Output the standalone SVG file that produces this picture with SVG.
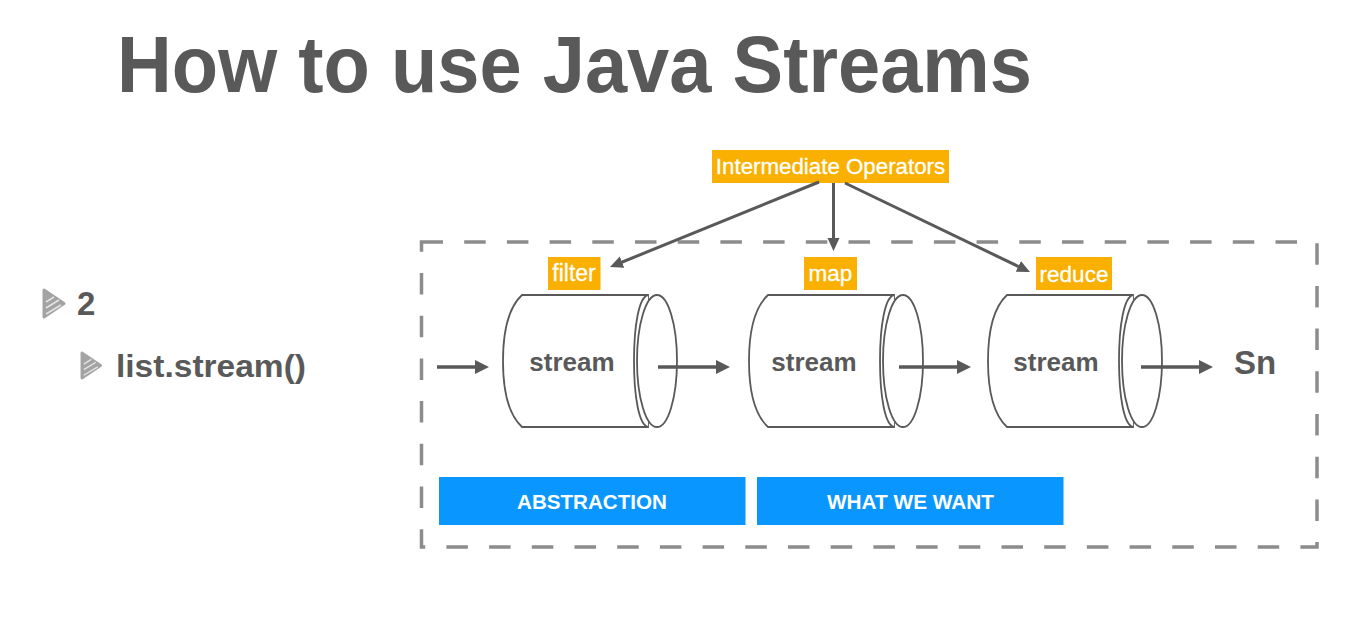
<svg xmlns="http://www.w3.org/2000/svg" width="1355" height="619" viewBox="0 0 1355 619">
<style>
text{font-family:"Liberation Sans",Arial,sans-serif}
.t{fill:#595959;font-weight:700;stroke:none}
.w{fill:#fff;stroke:#fff;stroke-width:.3;text-anchor:middle}
.o{fill:#f9b000}
.b{fill:#0a96ff}
.cy{fill:#fff;stroke:#595959;stroke-width:1.800}
.cn{stroke:#595959;fill:none}
</style>
<defs>
<marker id="ah" markerUnits="userSpaceOnUse" markerWidth="16" markerHeight="14" refX="10" refY="7" orient="auto"><path d="M0 0L14 7L0 14Z" fill="#595959"/></marker>
<marker id="as" markerUnits="userSpaceOnUse" markerWidth="14" markerHeight="14" refX="9" refY="7" orient="auto"><path d="M0 1L13 7L0 13Z" fill="#595959"/></marker>
<g id="bul"><path d="M1 1L21 14.500L1 28Z" fill="#a3a3a3" stroke="#a3a3a3" stroke-width="3" stroke-linejoin="round"/><path d="M3 13L11 8M3 19L16 11M3 25L18 16" stroke="#e4e4e4" stroke-width="1.500" fill="none"/></g>
<g id="cyl"><path class="cy" d="M145 0H19C6 12 0 36 0 66C0 96 6 120 19 132H145Z"/><path class="cy" d="M145 0C136 2 131 30 131 66C131 102 136 130 145 132" fill="none"/><ellipse class="cy" cx="154" cy="66" rx="20" ry="66"/></g>
</defs>
<text id="title" class="t" x="117" y="92" font-size="79" textLength="915" lengthAdjust="spacingAndGlyphs">How to use Java Streams</text>
<g id="bullet-2"><use href="#bul" transform="translate(43 289)"/><text class="t" x="77" y="315" font-size="33">2</text></g>
<g id="bullet-list"><use href="#bul" transform="translate(81 352) scale(.93)"/><text class="t" x="116" y="377" font-size="31" textLength="190" lengthAdjust="spacingAndGlyphs">list.stream()</text></g>
<rect id="frame" x="421.500" y="242" width="895.500" height="305" fill="none" stroke="#8c8c8c" stroke-width="3.500" stroke-dasharray="21.500 21.200"/>
<g id="intermediate"><rect class="o" x="712" y="150" width="237" height="33"/><text class="w" x="830.500" y="174" font-size="22.300">Intermediate Operators</text></g>
<g id="filter"><rect class="o" x="548" y="257" width="52.500" height="33"/><text class="w" x="574" y="281" font-size="23">filter</text></g>
<g id="map"><rect class="o" x="804" y="257" width="53" height="33"/><text class="w" x="830.500" y="281" font-size="22.500">map</text></g>
<g id="reduce"><rect class="o" x="1036" y="257" width="76" height="33"/><text class="w" x="1074" y="282" font-size="22.500">reduce</text></g>
<g id="stream1"><use href="#cyl" transform="translate(503 295)"/><text class="t" x="572" y="371" font-size="26" text-anchor="middle">stream</text></g>
<g id="stream2"><use href="#cyl" transform="translate(749 295)"/><text class="t" x="814" y="371" font-size="26" text-anchor="middle">stream</text></g>
<g id="stream3"><use href="#cyl" transform="translate(988 295)"/><text class="t" x="1056" y="371" font-size="26" text-anchor="middle">stream</text></g>
<g id="sn"><text class="t" x="1234" y="374" font-size="33">Sn</text></g>
<g id="abstraction"><rect class="b" x="439" y="477" width="306.500" height="48"/><text class="w" x="592" y="509" font-size="20.600" style="font-weight:700;stroke:none">ABSTRACTION</text></g>
<g id="want"><rect class="b" x="757" y="477" width="306.500" height="48"/><text class="w" x="910.500" y="509" font-size="20.800" style="font-weight:700;stroke:none">WHAT WE WANT</text></g>
<g id="connectors" class="cn">
<path d="M437 367H485" stroke-width="3.500" marker-end="url(#ah)"/>
<path d="M658 367H726" stroke-width="3.500" marker-end="url(#ah)"/>
<path d="M899 367H967" stroke-width="3.500" marker-end="url(#ah)"/>
<path d="M1141 367H1209" stroke-width="3.500" marker-end="url(#ah)"/>
<path d="M819 182L613.700 265.500" stroke-width="3" marker-end="url(#as)"/>
<path d="M833.500 183V247" stroke-width="3" marker-end="url(#as)"/>
<path d="M845 183L1026.400 270.300" stroke-width="3" marker-end="url(#as)"/>
</g>
</svg>
